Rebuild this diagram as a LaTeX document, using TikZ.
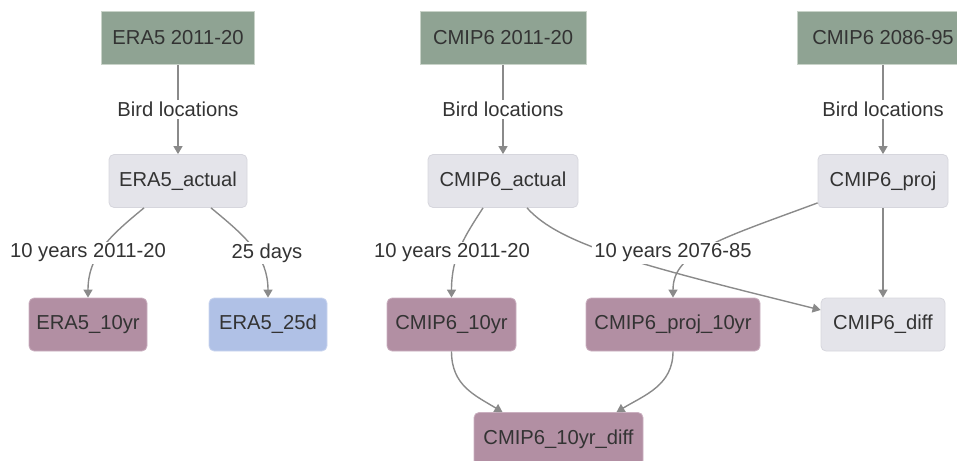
\documentclass[tikz,border=0pt]{standalone}
\usepackage{fontspec}
\setmainfont{Liberation Sans}
\usetikzlibrary{arrows.meta}

\definecolor{srcgreen}{HTML}{8FA393}
\definecolor{srcline}{HTML}{C9D3C9}
\definecolor{stagegray}{HTML}{E4E4EA}
\definecolor{stageline}{HTML}{D6D6DD}
\definecolor{resmauve}{HTML}{B28FA3}
\definecolor{resline}{HTML}{CBB0C0}
\definecolor{resblue}{HTML}{B0C1E6}
\definecolor{blueline}{HTML}{CAD5EF}
\definecolor{edgegray}{HTML}{8A8A8A}
\definecolor{txtgray}{HTML}{333333}

\begin{document}
\begin{tikzpicture}[x=1pt, y=-1pt,
  font=\fontsize{20.2}{24}\selectfont, text=txtgray,
  box/.style={draw, line width=0.8pt, minimum height=53pt, inner sep=0pt},
  datasrc/.style={box, fill=srcgreen, draw=srcline},
  stage/.style={box, rounded corners=5pt, fill=stagegray, draw=stageline},
  result/.style={box, rounded corners=5pt, fill=resmauve, draw=resline},
  shortres/.style={box, rounded corners=5pt, fill=resblue, draw=blueline},
  flow/.style={draw=edgegray, line width=1.4pt, -{Triangle[length=8pt, width=9pt]}},
  lbl/.style={fill=white, inner sep=2pt}]
  \clip (0,0) rectangle (957,460);
  \node[datasrc, minimum width=153pt] (era) at (178,38) {ERA5 2011-20};
  \node[datasrc, minimum width=166pt] (cmip) at (503,38) {CMIP6 2011-20};
  \node[datasrc, minimum width=172pt] (fut) at (883,38) {CMIP6 2086-95};
  \node[stage, minimum width=138pt] (eraAct) at (178,181) {ERA5\_actual};
  \node[stage, minimum width=150pt] (cmipAct) at (503,181) {CMIP6\_actual};
  \node[stage, minimum width=130pt] (proj) at (883,181) {CMIP6\_proj};
  \node[result, minimum width=118pt] (eraTen) at (88,324.5) {ERA5\_10yr};
  \node[shortres, minimum width=118pt] (eraDay) at (268,324.5) {ERA5\_25d};
  \node[result, minimum width=129pt] (cmipTen) at (451.5,324.5) {CMIP6\_10yr};
  \node[result, minimum width=174pt] (projTen) at (673,324.5) {CMIP6\_proj\_10yr};
  \node[stage, minimum width=124pt] (diff) at (883,324.5) {CMIP6\_diff};
  \node[result, minimum width=169pt] (tenDiff) at (558.5,439) {CMIP6\_10yr\_diff};

  \draw[flow] (era) -- node[lbl] (birdEra) {Bird locations} (eraAct);
  \draw[flow] (cmip) -- node[lbl] (birdCmip) {Bird locations} (cmipAct);
  \draw[flow] (fut) -- node[lbl] (birdFut) {Bird locations} (proj);
  \draw[flow] ([xshift=-34pt]eraAct.south) .. controls +(-34,28) and +(0,-42) .. (eraTen.north);
  \draw[flow] ([xshift=33pt]eraAct.south) .. controls +(34,28) and +(0,-42) .. (eraDay.north);
  \draw[flow] ([xshift=-20pt]cmipAct.south) .. controls +(-18,28) and +(0,-42) .. (cmipTen.north);
  \draw[flow] ([xshift=24pt]cmipAct.south) .. controls +(33,37) and +(-181,-45) .. ([yshift=14.5pt]diff.west);
  \draw[flow] ([yshift=5pt]proj.south west) .. controls +(-100,37) and +(0,-45) .. (projTen.north);
  \draw[flow] (proj) -- (diff);
  \draw[flow] (cmipTen.south) .. controls +(0,34) and +(-28,-17) .. ([xshift=-56pt]tenDiff.north);
  \draw[flow] (projTen.south) .. controls +(0,34) and +(28,-17) .. ([xshift=58pt]tenDiff.north);

  \node[lbl] (tenEra) at (88,253) {10 years 2011-20};
  \node[lbl] (dayEra) at (267,253) {25 days};
  \node[lbl] (tenCmip) at (452,253) {10 years 2011-20};
  \node[lbl] (tenProj) at (673,253) {10 years 2076-85};
\end{tikzpicture}
\end{document}
